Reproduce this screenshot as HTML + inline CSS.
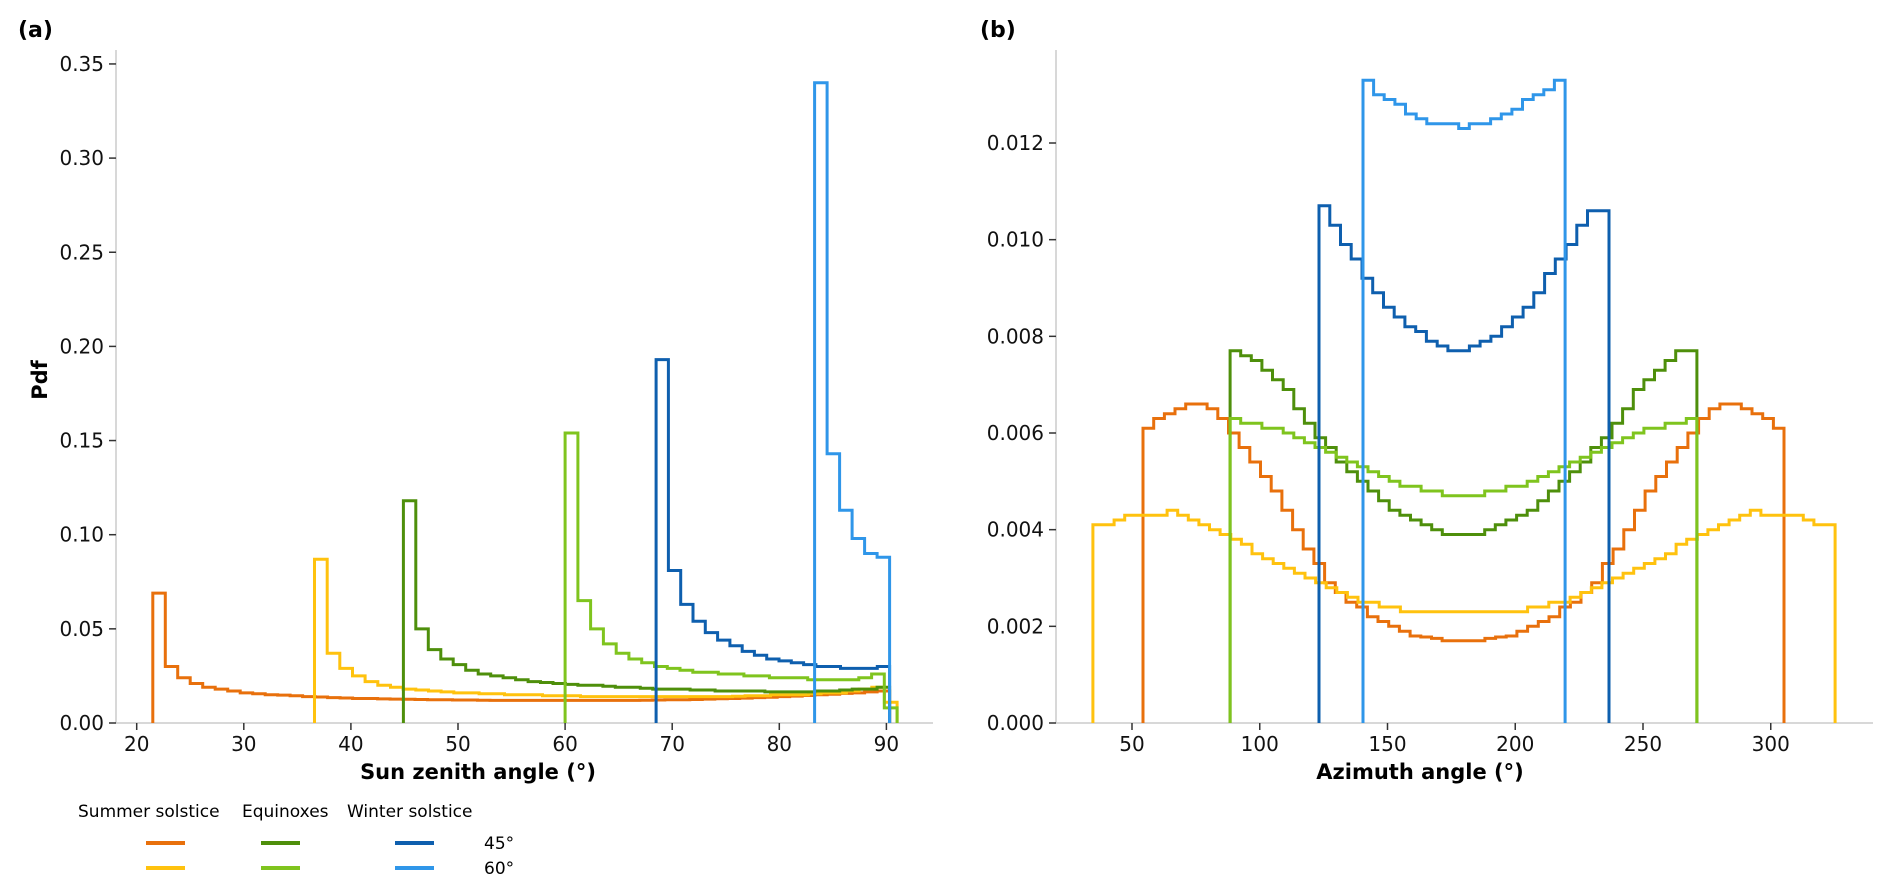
<!DOCTYPE html>
<html><head><meta charset="utf-8"><style>
html,body{margin:0;padding:0;background:#fff;}
svg{display:block;font-family:"DejaVu Sans","Liberation Sans",sans-serif;}
</style></head><body>
<svg id="chart" width="1892" height="895" viewBox="0 0 1892 895" xmlns="http://www.w3.org/2000/svg">
<text x="18" y="37" font-size="22" font-weight="bold">(a)</text>
<text x="980" y="37" font-size="22" font-weight="bold">(b)</text>
<g id="pa"></g>
<g id="pb"></g>
<text x="478" y="779" font-size="21" font-weight="bold" text-anchor="middle">Sun zenith angle (°)</text>
<text x="1420" y="779" font-size="21" font-weight="bold" text-anchor="middle">Azimuth angle (°)</text>
<text transform="translate(47,380) rotate(-90)" font-size="21" font-weight="bold" text-anchor="middle">Pdf</text>
<g font-size="17">
<text x="78" y="817">Summer solstice</text>
<text x="242" y="817">Equinoxes</text>
<text x="347" y="817">Winter solstice</text>
<line x1="146" y1="843" x2="185" y2="843" stroke="#e8700c" stroke-width="4"/>
<line x1="146" y1="868" x2="185" y2="868" stroke="#ffc20e" stroke-width="4"/>
<line x1="261" y1="843" x2="300" y2="843" stroke="#4e8f0b" stroke-width="4"/>
<line x1="261" y1="868" x2="300" y2="868" stroke="#7fc41e" stroke-width="4"/>
<line x1="395" y1="843" x2="434" y2="843" stroke="#0e5fae" stroke-width="4"/>
<line x1="395" y1="868" x2="434" y2="868" stroke="#2f96e9" stroke-width="4"/>
<text x="484" y="849">45°</text>
<text x="484" y="874">60°</text>
</g>
</svg>
<script>
const NS="http://www.w3.org/2000/svg";
// Panel (a): zenith
const zTicksX=[20,30,40,50,60,70,80,90];
const zTicksY=[0,0.05,0.10,0.15,0.20,0.25,0.30,0.35];
const zTickLabelsY=["0.00","0.05","0.10","0.15","0.20","0.25","0.30","0.35"];
const zSeriesNames=["summer-45","summer-60","equinox-45","equinox-60","winter-45","winter-60"];
const zColors=["#e8700c","#ffc20e","#4e8f0b","#7fc41e","#0e5fae","#2f96e9"];
const zRanges=[[21.5,90.3],[36.6,91.0],[44.9,90.3],[60.0,91.0],[68.5,90.3],[83.3,90.3]];
const zSummer45=[0.069,0.030,0.024,0.021,0.019,0.018,0.017,0.016,0.0155,0.015,0.0148,0.0145,0.014,0.0138,0.0135,0.0133,0.013,0.013,0.0128,0.0127,0.0126,0.0125,0.0124,0.0123,0.0122,0.0122,0.0121,0.012,0.012,0.012,0.012,0.012,0.012,0.012,0.012,0.012,0.012,0.012,0.012,0.0121,0.0122,0.0123,0.0124,0.0125,0.0127,0.0129,0.013,0.0132,0.0135,0.0137,0.014,0.0143,0.0146,0.015,0.0153,0.0157,0.016,0.0165,0.017];
const zSummer60=[0.087,0.037,0.029,0.025,0.022,0.020,0.019,0.018,0.0175,0.017,0.0165,0.016,0.016,0.0155,0.0155,0.015,0.015,0.015,0.0145,0.0145,0.0145,0.014,0.014,0.014,0.014,0.014,0.014,0.014,0.014,0.014,0.014,0.014,0.014,0.0142,0.0145,0.0145,0.015,0.015,0.015,0.0155,0.016,0.016,0.017,0.018,0.019,0.011];
const zEquinox45=[0.118,0.050,0.039,0.034,0.031,0.028,0.026,0.025,0.024,0.023,0.022,0.0215,0.021,0.0205,0.020,0.020,0.0195,0.019,0.019,0.0185,0.018,0.018,0.018,0.0175,0.0175,0.017,0.017,0.017,0.017,0.0165,0.0165,0.0165,0.0165,0.017,0.017,0.0175,0.018,0.018,0.019];
const zEquinox60=[0.154,0.065,0.050,0.042,0.037,0.034,0.032,0.030,0.029,0.028,0.027,0.027,0.026,0.026,0.025,0.025,0.024,0.024,0.024,0.023,0.023,0.023,0.023,0.024,0.026,0.008];
const zWinter45=[0.193,0.081,0.063,0.054,0.048,0.044,0.041,0.038,0.036,0.034,0.033,0.032,0.031,0.030,0.030,0.029,0.029,0.029,0.030];
const zWinter60=[0.340,0.143,0.113,0.098,0.090,0.088];
const zValues=[zSummer45,zSummer60,zEquinox45,zEquinox60,zWinter45,zWinter60];

// Panel (b): azimuth
const aTicksX=[50,100,150,200,250,300];
const aTicksY=[0,0.002,0.004,0.006,0.008,0.010,0.012];
const aTickLabelsY=["0.000","0.002","0.004","0.006","0.008","0.010","0.012"];
const aRanges=[[54.3,305.2],[34.7,325.2],[88.4,271.1],[88.4,271.1],[123.2,236.7],[140.4,219.5]];
const aSummer45=[0.0061,0.0063,0.0064,0.0065,0.0066,0.0066,0.0065,0.0063,0.0060,0.0057,0.0054,0.0051,0.0048,0.0044,0.0040,0.0036,0.0033,0.0029,0.0027,0.0025,0.0024,0.0022,0.0021,0.0020,0.0019,0.0018,0.00178,0.00175,0.0017,0.0017,
0.0017,0.0017,0.00175,0.00178,0.0018,0.0019,0.0020,0.0021,0.0022,0.0024,0.0025,0.0027,0.0029,0.0033,0.0036,0.0040,0.0044,0.0048,0.0051,0.0054,0.0057,0.0060,0.0063,0.0065,0.0066,0.0066,0.0065,0.0064,0.0063,0.0061];
const aSummer60=[0.0041,0.0041,0.0042,0.0043,0.0043,0.0043,0.0043,0.0044,0.0043,0.0042,0.0041,0.0040,0.0039,0.0038,0.0037,0.0035,0.0034,0.0033,0.0032,0.0031,0.0030,0.0029,0.0028,0.0027,0.0026,0.0025,0.0025,0.0024,0.0024,0.0023,0.0023,0.0023,0.0023,0.0023,0.0023,
0.0023,0.0023,0.0023,0.0023,0.0023,0.0023,0.0024,0.0024,0.0025,0.0025,0.0026,0.0027,0.0028,0.0029,0.0030,0.0031,0.0032,0.0033,0.0034,0.0035,0.0037,0.0038,0.0039,0.0040,0.0041,0.0042,0.0043,0.0044,0.0043,0.0043,0.0043,0.0043,0.0042,0.0041,0.0041];
const aEquinox45=[0.0077,0.0076,0.0075,0.0073,0.0071,0.0069,0.0065,0.0062,0.0059,0.0057,0.0054,0.0052,0.0050,0.0048,0.0046,0.0044,0.0043,0.0042,0.0041,0.0040,0.0039,0.0039,
0.0039,0.0039,0.0040,0.0041,0.0042,0.0043,0.0044,0.0046,0.0048,0.0050,0.0052,0.0054,0.0057,0.0059,0.0062,0.0065,0.0069,0.0071,0.0073,0.0075,0.0077,0.0077];
const aEquinox60=[0.0063,0.0062,0.0062,0.0061,0.0061,0.0060,0.0059,0.0058,0.0057,0.0056,0.0055,0.0054,0.0053,0.0052,0.0051,0.0050,0.0049,0.0049,0.0048,0.0048,0.0047,0.0047,
0.0047,0.0047,0.0048,0.0048,0.0049,0.0049,0.0050,0.0051,0.0052,0.0053,0.0054,0.0055,0.0056,0.0057,0.0058,0.0059,0.0060,0.0061,0.0061,0.0062,0.0062,0.0063];
const aWinter45=[0.0107,0.0103,0.0099,0.0096,0.0092,0.0089,0.0086,0.0084,0.0082,0.0081,0.0079,0.0078,0.0077,0.0077,0.0078,0.0079,0.0080,0.0082,0.0084,0.0086,0.0089,0.0093,0.0096,0.0099,0.0103,0.0106,0.0106];
const aWinter60=[0.0133,0.0130,0.0129,0.0128,0.0126,0.0125,0.0124,0.0124,0.0124,0.0123,0.0124,0.0124,0.0125,0.0126,0.0127,0.0129,0.0130,0.0131,0.0133];
const aValues=[aSummer45,aSummer60,aEquinox45,aEquinox60,aWinter45,aWinter60];

const zx=v=>136.7+(v-20)*10.71, zy=v=>723-v*1883;
const ax=v=>1132+(v-50)*2.555, ay=v=>723-v*48333;

function mk(tag,attrs,parent){const e=document.createElementNS(NS,tag);for(const k in attrs)e.setAttribute(k,attrs[k]);parent.appendChild(e);return e;}

function panel(g,x0,x1,ticksX,ticksY,labelsY,sx,sy,ranges,values,prefix){
  const sp=mk('line',{x1:x0,y1:50,x2:x0,y2:723,stroke:'#cccccc','stroke-width':1.5},g);
  
  
  const bt=mk('line',{x1:x0,y1:723,x2:x1,y2:723,stroke:'#cccccc','stroke-width':1.5},g);
  
  
  ticksY.forEach((t,i)=>{
    const y=sy(t);
    const tk=mk('line',{x1:x0-7,y1:y,x2:x0,y2:y,stroke:'#333','stroke-width':1.5},g);
    
    
    const tx=mk('text',{x:x0-12,y:y+7,'font-size':20,'text-anchor':'end',fill:'#111'},g);
    tx.textContent=labelsY[i];
    
    
  });
  ticksX.forEach(t=>{
    const x=sx(t);
    const tk=mk('line',{x1:x,y1:723,x2:x,y2:730,stroke:'#333','stroke-width':1.5},g);
    
    
    const tx=mk('text',{x:x,y:751,'font-size':20,'text-anchor':'middle',fill:'#111'},g);
    tx.textContent=String(t);
    
    
  });
  values.forEach((vals,si)=>{
    const [a,b]=ranges[si];const w=(b-a)/vals.length;
    let d='M'+sx(a).toFixed(1)+','+sy(0).toFixed(1);
    vals.forEach((v,i)=>{
      const xa=sx(a+i*w),xb=sx(a+(i+1)*w),y=sy(v);
      d+=' L'+xa.toFixed(1)+','+y.toFixed(1)+' L'+xb.toFixed(1)+','+y.toFixed(1);
    });
    d+=' L'+sx(b).toFixed(1)+','+sy(0).toFixed(1);
    const p=mk('path',{d:d,fill:'none',stroke:zColors[si],'stroke-width':3,'stroke-linejoin':'miter'},g);
    
    
  });
}
panel(document.getElementById('pa'),116,933,zTicksX,zTicksY,zTickLabelsY,zx,zy,zRanges,zValues,'zenith');
panel(document.getElementById('pb'),1056,1873,aTicksX,aTicksY,aTickLabelsY,ax,ay,aRanges,aValues,'azimuth');
</script>
</body></html>
